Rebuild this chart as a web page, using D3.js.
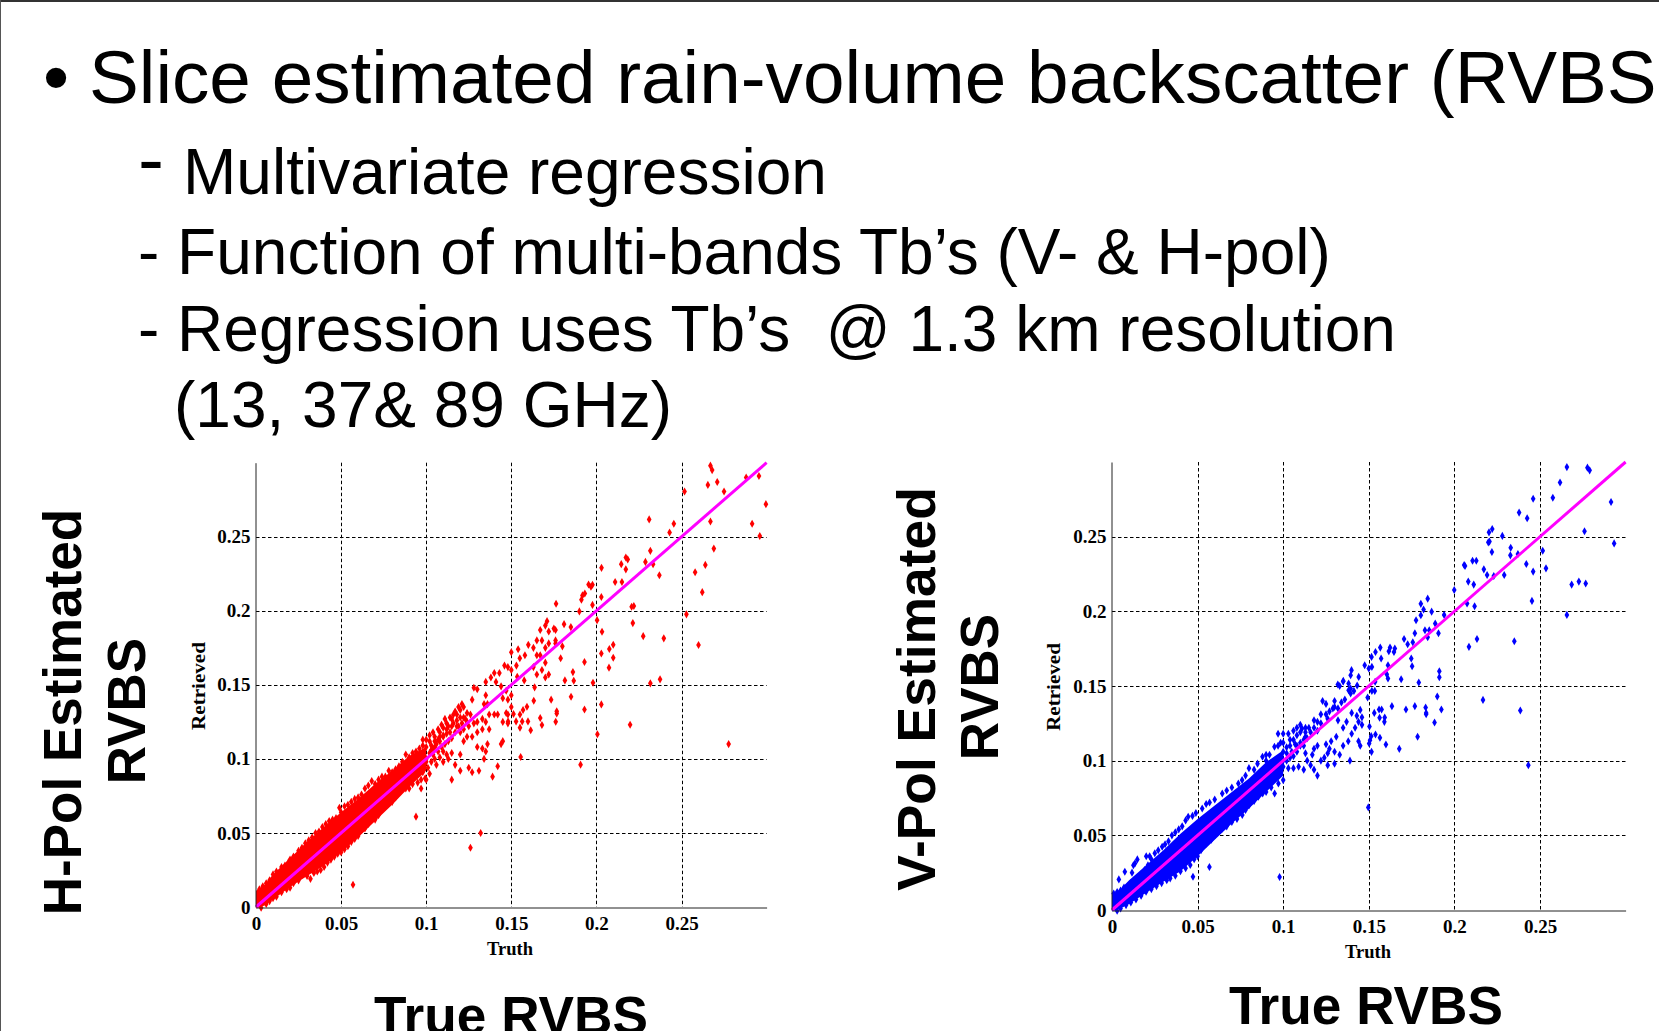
<!DOCTYPE html>
<html>
<head>
<meta charset="utf-8">
<script src="https://cdn.jsdelivr.net/npm/d3@7"></script>
<style>
  html, body { margin: 0; padding: 0; background: #fff; overflow: hidden; }
  svg { display: block; }
  .slide { font-family: "Liberation Sans", Arial, sans-serif; fill: #000; }
  .ticks text, .axis-name { font-family: "Liberation Serif", "Times New Roman", serif; font-weight: bold; fill: #000; }
</style>
</head>
<body>
<div id="chart"></div>
<script>
const xTicks = [0, 0.05, 0.1, 0.15, 0.2, 0.25];
const yTicks = [0, 0.05, 0.1, 0.15, 0.2, 0.25];
const tickLabels = ["0", "0.05", "0.1", "0.15", "0.2", "0.25"];
const oneToOne = [0, 0.3];

// the core of each cloud is saturated, single points can't be told apart there,
// so it is read off as a low/high envelope; everything else is [truth, retrieved]
const coreTruth = [0, 0.005, 0.01, 0.02, 0.03, 0.04, 0.05, 0.06, 0.07, 0.08, 0.09, 0.1];
const coreHighH = [0.011, 0.015, 0.022, 0.033, 0.044, 0.054, 0.064, 0.073, 0.083, 0.092, 0.102, 0.108];
const coreLowH = [-0.001, 0.001, 0.005, 0.0135, 0.021, 0.028, 0.037, 0.047, 0.058, 0.069, 0.081, 0.092];
const coreHighV = [0.01, 0.014, 0.02, 0.03, 0.04, 0.051, 0.061, 0.07, 0.079, 0.088, 0.099, 0.107];
const coreLowV = [-0.001, 0.001, 0.004, 0.0115, 0.019, 0.026, 0.036, 0.047, 0.058, 0.068, 0.079, 0.09];

const hPolPoints = [
  [0.002,0.012],[0.004,0.014],[0.006,0.016],[0.008,0.018],[0.01,0.022],[0.012,0.024],[0.015,0.027],[0.017,0.028],[0.019,0.03],
  [0.02,0.032],[0.022,0.034],[0.025,0.038],[0.027,0.04],[0.029,0.043],[0.031,0.045],[0.033,0.047],[0.035,0.05],[0.037,0.051],
  [0.039,0.054],[0.041,0.056],[0.043,0.058],[0.045,0.059],[0.047,0.06],[0.049,0.067],[0.05,0.064],[0.052,0.068],[0.054,0.069],
  [0.056,0.071],[0.058,0.073],[0.06,0.074],[0.062,0.076],[0.064,0.08],[0.066,0.082],[0.068,0.085],[0.07,0.083],[0.072,0.086],
  [0.074,0.088],[0.076,0.088],[0.078,0.092],[0.08,0.091],[0.082,0.093],[0.084,0.095],[0.086,0.098],[0.088,0.103],[0.09,0.101],
  [0.092,0.104],[0.094,0.105],[0.096,0.107],[0.098,0.109],
  [0.003,-0.0005],[0.006,0.002],[0.008,0.004],[0.01,0.006],[0.012,0.007],[0.015,0.01],[0.018,0.012],[0.02,0.013],[0.022,0.016],
  [0.025,0.018],[0.03,0.021],[0.032,0.019],[0.034,0.023],[0.036,0.024],[0.038,0.025],[0.04,0.027],[0.042,0.03],[0.044,0.032],
  [0.046,0.034],[0.048,0.036],[0.05,0.037],[0.052,0.039],[0.054,0.041],[0.056,0.044],[0.058,0.046],[0.06,0.048],[0.062,0.052],
  [0.064,0.053],[0.066,0.056],[0.068,0.06],[0.07,0.059],[0.072,0.062],[0.074,0.067],[0.076,0.07],[0.078,0.073],[0.08,0.071],
  [0.082,0.074],[0.084,0.078],[0.086,0.08],[0.088,0.08],[0.09,0.08],[0.092,0.083],[0.095,0.084],[0.097,0.086],[0.1,0.086],
  [0.1,0.1],[0.102,0.104],[0.104,0.103],[0.106,0.11],[0.107,0.105],[0.109,0.108],[0.111,0.11],[0.113,0.112],[0.115,0.114],
  [0.117,0.118],[0.119,0.122],[0.121,0.124],[0.123,0.127],[0.124,0.131],[0.126,0.13],[0.122,0.135],[0.119,0.135],[0.117,0.132],
  [0.114,0.128],[0.111,0.127],[0.109,0.123],[0.107,0.12],[0.104,0.118],[0.102,0.116],[0.1,0.113],[0.098,0.113],[0.103,0.109],
  [0.105,0.112],[0.108,0.115],[0.112,0.12],[0.116,0.124],[0.118,0.122],[0.12,0.128],[0.122,0.128],[0.124,0.125],[0.1,0.098],
  [0.103,0.098],[0.106,0.096],[0.108,0.101],[0.112,0.103],[0.113,0.1],[0.098,0.094],[0.101,0.094],[0.095,0.09],[0.093,0.088],
  [0.09,0.088],[0.088,0.084],[0.097,0.08],[0.0994,0.0869],[0.104,0.107],[0.107,0.113],[0.11,0.116],[0.113,0.122],[0.116,0.13],
  [0.1,0.108],[0.102,0.112],[0.105,0.115],[0.108,0.118],[0.11,0.121],[0.112,0.124],[0.115,0.127],[0.118,0.13],[0.12,0.133],
  [0.121,0.137],[0.118,0.126],[0.115,0.122],[0.112,0.117],[0.108,0.112],[0.105,0.108],[0.103,0.106],[0.11,0.115],[0.114,0.118],
  [0.105,0.1],[0.11,0.105],[0.115,0.104],[0.12,0.103],[0.098,0.091],[0.102,0.09],[0.11,0.098],[0.117,0.096],[0.12,0.092],
  [0.115,0.086],[0.125,0.094],[0.127,0.091],[0.131,0.092],[0.139,0.088],[0.142,0.095],[0.094,0.061],[0.132,0.05],[0.126,0.04],[0.057,0.015],
  [0.12,0.118],[0.122,0.12],[0.125,0.122],[0.128,0.124],[0.124,0.115],[0.122,0.112],[0.127,0.115],[0.13,0.118],[0.13,0.125],
  [0.133,0.127],[0.135,0.125],[0.137,0.12],[0.133,0.12],[0.13,0.108],[0.133,0.107],[0.135,0.105],[0.136,0.11],[0.134,0.1],
  [0.145,0.112],[0.144,0.11],[0.14,0.13],[0.137,0.13],[0.142,0.13],[0.145,0.125],[0.147,0.131],[0.148,0.124],[0.127,0.14],
  [0.13,0.147],[0.128,0.148],[0.135,0.143],[0.134,0.137],[0.136,0.137],[0.135,0.152],[0.138,0.155],[0.14,0.158],[0.143,0.158],
  [0.141,0.152],[0.144,0.149],[0.148,0.162],[0.146,0.163],[0.15,0.16],[0.153,0.163],[0.155,0.168],[0.15,0.172],[0.154,0.174],
  [0.147,0.146],[0.145,0.141],[0.148,0.14],[0.15,0.143],[0.15,0.135],[0.148,0.13],[0.16,0.177],[0.158,0.17],[0.163,0.162],
  [0.165,0.18],[0.167,0.187],[0.171,0.193],[0.17,0.19],[0.172,0.186],[0.175,0.188],[0.176,0.18],[0.17,0.175],[0.172,0.178],
  [0.168,0.18],[0.165,0.17],[0.163,0.175],[0.167,0.17],[0.17,0.165],[0.168,0.16],[0.172,0.157],[0.17,0.155],[0.165,0.157],
  [0.176,0.187],[0.181,0.191],[0.185,0.189],[0.176,0.178],[0.18,0.176],[0.179,0.168],
  [0.267,0.298],[0.268,0.295],[0.288,0.29],[0.2955,0.291],[0.2996,0.272],[0.271,0.287],[0.2655,0.285],[0.275,0.2806],[0.2518,0.2806],
  [0.231,0.2617],[0.2455,0.2588],[0.243,0.2529],[0.267,0.2603],[0.2915,0.2588],[0.296,0.2505],[0.269,0.242],[0.2317,0.2405],[0.2288,0.233],
  [0.2333,0.2315],[0.264,0.231],[0.258,0.226],[0.237,0.224],[0.203,0.229],[0.2173,0.236],[0.2184,0.2347],[0.2146,0.2315],[0.2173,0.228],
  [0.211,0.2194],[0.215,0.2194],[0.2029,0.2093],[0.1977,0.2176],[0.1954,0.2178],[0.1968,0.2162],[0.1932,0.2117],[0.1918,0.2104],[0.1912,0.2075],
  [0.1977,0.204],[0.19,0.1996],[0.1763,0.2048],[0.2004,0.1937],[0.2033,0.1859],[0.222,0.2032],[0.2207,0.2027],[0.2214,0.1917],[0.2529,0.1976],
  [0.2622,0.2126],[0.2275,0.1829],[0.2396,0.1814],[0.26,0.1769],[0.2099,0.1771],[0.2076,0.1742],[0.2029,0.1712],[0.2099,0.1683],[0.2074,0.1616],
  [0.193,0.1654],[0.1862,0.1586],[0.1867,0.1528],[0.1815,0.153],[0.198,0.1514],[0.2317,0.151],[0.2374,0.1537],[0.2029,0.1368],[0.193,0.1334],
  [0.1851,0.142],[0.2198,0.1231],[0.2006,0.1166],[0.2777,0.11],[0.1907,0.0961],[0.1555,0.1013],[0.1734,0.14],[0.1767,0.1321],[0.1767,0.1307],
  [0.1761,0.1251],[0.167,0.1276],[0.168,0.1229],[0.1614,0.1193],[0.1632,0.1393],[0.1637,0.1483],[0.1576,0.153],[0.1535,0.1555],[0.1592,0.1352],
  [0.1569,0.133],[0.1551,0.13],[0.1513,0.1303],[0.1528,0.1253],[0.1564,0.1253],[0.1598,0.1253],[0.1551,0.1211],[0.1481,0.1253]
];

const vPolPoints = [
  [0.001,0.011],[0.003,0.012],[0.005,0.013],[0.007,0.015],[0.009,0.0156],[0.011,0.018],[0.013,0.02],[0.015,0.021],[0.017,0.024],
  [0.019,0.0268],[0.004,0.0205],[0.0075,0.0256],[0.0117,0.025],[0.0134,0.0312],[0.0148,0.0339],[0.0125,0.03],
  [0.021,0.03],[0.023,0.034],[0.02,0.036],[0.022,0.036],[0.025,0.038],[0.027,0.04],[0.0293,0.0424],[0.031,0.044],[0.033,0.046],
  [0.035,0.05],[0.037,0.052],[0.039,0.054],[0.041,0.056],[0.043,0.06],[0.0445,0.0624],[0.047,0.063],[0.049,0.065],[0.0527,0.068],
  [0.055,0.071],[0.057,0.072],[0.06,0.074],[0.0644,0.078],[0.067,0.08],[0.07,0.082],[0.0738,0.0847],[0.076,0.087],[0.078,0.09],
  [0.08,0.095],[0.083,0.094],[0.085,0.098],[0.0879,0.1026],[0.09,0.104],[0.092,0.104],[0.0949,0.1093],[0.097,0.11],[0.0985,0.112],[0.09,0.1],
  [0.003,-0.0005],[0.005,0.001],[0.0082,0.0033],[0.011,0.005],[0.014,0.007],[0.017,0.0095],[0.0199,0.0123],[0.023,0.014],[0.026,0.016],
  [0.029,0.018],[0.032,0.02],[0.034,0.0212],[0.037,0.023],[0.04,0.026],[0.043,0.028],[0.0457,0.0301],[0.048,0.034],[0.05,0.036],
  [0.052,0.04],[0.055,0.0446],[0.058,0.047],[0.06,0.05],[0.0644,0.0546],[0.067,0.056],[0.07,0.059],[0.073,0.061],[0.0761,0.0636],
  [0.078,0.067],[0.08,0.07],[0.083,0.073],[0.0855,0.0758],[0.088,0.078],[0.09,0.079],[0.093,0.082],[0.0972,0.0847],[0.1,0.087],[0.095,0.078],
  [0.072,0.07],[0.076,0.072],[0.08,0.076],[0.084,0.08],
  [0.1,0.1],[0.102,0.1],[0.104,0.102],[0.106,0.103],[0.108,0.11],[0.11,0.11],[0.112,0.114],[0.114,0.115],[0.116,0.119],[0.118,0.122],
  [0.12,0.12],[0.1,0.106],[0.102,0.109],[0.104,0.114],[0.099,0.103],[0.106,0.114],[0.108,0.122],[0.11,0.124],[0.113,0.119],
  [0.1,0.112],[0.103,0.118],[0.1,0.118],[0.097,0.118],[0.106,0.12],[0.108,0.117],[0.11,0.119],[0.111,0.1215],[0.113,0.122],[0.115,0.122],
  [0.104,0.11],[0.107,0.111],[0.11,0.112],[0.113,0.116],[0.108,0.106],[0.112,0.11],[0.102,0.105],[0.105,0.106],
  [0.1,0.096],[0.103,0.095],[0.106,0.095],[0.109,0.096],[0.112,0.094],[0.116,0.097],[0.12,0.09],[0.118,0.094],[0.114,0.1],
  [0.117,0.104],[0.118,0.108],[0.12,0.11],[0.113,0.105],[0.122,0.1],[0.124,0.102],[0.126,0.097],[0.13,0.098],[0.133,0.104],
  [0.135,0.11],[0.13,0.106],[0.127,0.108],[0.125,0.111],[0.128,0.113],[0.131,0.116],[0.126,0.105],[0.139,0.1],
  [0.118,0.127],[0.12,0.126],[0.122,0.125],[0.122,0.131],[0.125,0.131],[0.123,0.14],[0.125,0.138],[0.127,0.133],[0.129,0.135],
  [0.126,0.128],[0.132,0.135],[0.13,0.136],[0.134,0.139],[0.136,0.141],[0.133,0.15],[0.135,0.153],[0.13,0.14],
  [0.1567,0.1757],[0.1539,0.1728],[0.1516,0.1695],[0.1624,0.1757],[0.1652,0.1751],[0.1617,0.1733],[0.1647,0.1728],[0.1572,0.1684],
  [0.1518,0.1628],[0.15,0.1617],[0.1476,0.1639],[0.1612,0.1639],[0.1605,0.1579],[0.1612,0.155],[0.1399,0.1606],[0.1394,0.1572],
  [0.1351,0.1534],[0.1319,0.151],[0.1441,0.1561],[0.1382,0.1517],[0.1394,0.1483],[0.1432,0.1503],[0.1394,0.145],[0.1382,0.1472],[0.1413,0.1467],
  [0.1537,0.1528],[0.1518,0.1467],[0.1535,0.1467],[0.1493,0.1423],[0.137,0.126],[0.14,0.132],[0.143,0.13],[0.145,0.134],[0.146,0.129],
  [0.144,0.126],[0.142,0.122],[0.14,0.118],[0.135,0.122],[0.132,0.127],[0.146,0.124],[0.144,0.113],[0.145,0.11],[0.138,0.113],
  [0.2657,0.2966],[0.2777,0.2962],[0.279,0.2944],[0.2617,0.2863],[0.2575,0.2761],[0.246,0.2754],[0.2915,0.2732],[0.2378,0.2661],[0.2425,0.2623],
  [0.276,0.2536],[0.2933,0.2455],[0.228,0.2505],[0.2221,0.2551],[0.2202,0.2529],[0.2198,0.2462],[0.2205,0.2467],[0.2219,0.2397],[0.2329,0.2426],
  [0.2327,0.2375],[0.2371,0.2384],[0.2516,0.2406],[0.2535,0.2288],[0.242,0.2317],[0.246,0.2266],[0.2291,0.2243],[0.223,0.2237],[0.2191,0.2243],
  [0.2172,0.2281],[0.2106,0.2339],[0.2128,0.2339],[0.2057,0.231],[0.2062,0.2304],[0.2081,0.2199],[0.2113,0.2179],[0.2685,0.2179],[0.2727,0.2199],
  [0.2767,0.2186],[0.1999,0.2143],[0.2453,0.207],[0.2657,0.1976],[0.2118,0.2034],[0.2074,0.2052],[0.1844,0.2085],[0.1804,0.205],[0.182,0.2012],
  [0.1867,0.1998],[0.1804,0.1974],[0.1776,0.194],[0.1888,0.1918],[0.194,0.1976],[0.1907,0.1853],[0.1828,0.1873],[0.1853,0.1873],[0.1844,0.1826],
  [0.1769,0.1853],[0.1706,0.1815],[0.1727,0.178],[0.1757,0.1793],[0.2132,0.1815],[0.2085,0.1762],[0.235,0.18],[0.1748,0.1684],[0.1753,0.1632],
  [0.1792,0.1523],[0.1689,0.1545],[0.1912,0.1599],[0.1912,0.1559],[0.19,0.143],[0.2167,0.1407],[0.2385,0.1336],[0.1924,0.1343],[0.1832,0.1356],
  [0.1835,0.132],[0.1835,0.1311],[0.1769,0.1365],[0.1717,0.1343],[0.1635,0.1365],[0.1884,0.1256],[0.1785,0.116],[0.1678,0.1079],[0.16,0.1108],
  [0.1565,0.1153],[0.2432,0.097],[0.1497,0.0687],[0.0979,0.0221],[0.0569,0.0288],[0.0473,0.0223],[0.1575,0.1343],[0.156,0.1343],[0.1532,0.132],
  [0.1563,0.1287],[0.1593,0.1289],[0.1591,0.126],[0.1504,0.1229],[0.1514,0.1164],[0.1507,0.1137],[0.1502,0.1115],[0.1539,0.1175],[0.1516,0.1059]
];

const width = 1659;
const height = 1031;
const gridColor = "#000";
const lineColor = "#ff00ff";

const svg = d3.select("#chart").append("svg")
  .attr("width", width)
  .attr("height", height);

svg.append("rect").attr("width", width).attr("height", height).attr("fill", "#fff");
svg.append("line").attr("x1", 0).attr("x2", width).attr("y1", 1).attr("y2", 1).attr("stroke", "#333").attr("stroke-width", 2);
svg.append("line").attr("x1", 0.5).attr("x2", 0.5).attr("y1", 0).attr("y2", height).attr("stroke", "#555");

const slide = svg.append("g").attr("class", "slide");

const addText = (txt, x, y, size, opts = {}) => {
  const t = slide.append("text")
    .attr("font-size", size)
    .attr("font-weight", opts.bold ? "bold" : "normal")
    .attr("transform", `translate(${x},${y}) rotate(${opts.rotate || 0})`)
    .text(txt);
  if (opts.anchor) t.attr("text-anchor", opts.anchor);
  return t;
};

addText("•", 43, 103, 74.7);
addText("Slice estimated rain-volume backscatter (RVBS", 89, 103, 74.7);
addText("-", 138, 186, 78);
addText("Multivariate regression", 183, 194, 64);
addText("- Function of multi-bands Tb’s (V- & H-pol)", 138, 274, 64);
addText("- Regression uses Tb’s  @ 1.3 km resolution", 138, 351, 64).style("white-space", "pre");
addText("(13, 37& 89 GHz)", 174, 427, 64);

addText("H-Pol Estimated", 81, 712, 53, { bold: true, rotate: -90, anchor: "middle" });
addText("RVBS", 145, 711, 53, { bold: true, rotate: -90, anchor: "middle" });
addText("True RVBS", 511, 1034, 53.2, { bold: true, anchor: "middle" });
addText("V-Pol Estimated", 935, 689, 53.4, { bold: true, rotate: -90, anchor: "middle" });
addText("RVBS", 998, 687, 53, { bold: true, rotate: -90, anchor: "middle" });
addText("True RVBS", 1366, 1024, 53.2, { bold: true, anchor: "middle" });

const drawPanel = (p) => {
  const x = d3.scaleLinear().domain([0, 0.3]).range([p.left, p.right]);
  const y = d3.scaleLinear().domain([0, 0.3]).range([p.bottom, p.top]);
  const g = svg.append("g");

  const grid = g.append("g")
    .attr("stroke", gridColor)
    .attr("stroke-width", 1)
    .attr("stroke-dasharray", "3.5,2.5");
  grid.selectAll(".vgrid").data(xTicks.slice(1)).enter().append("line")
    .attr("x1", (d) => Math.round(x(d)) + 0.5)
    .attr("x2", (d) => Math.round(x(d)) + 0.5)
    .attr("y1", y(0.3))
    .attr("y2", y(0));
  grid.selectAll(".hgrid").data(yTicks.slice(1)).enter().append("line")
    .attr("x1", x(0))
    .attr("x2", x(0.3))
    .attr("y1", (d) => Math.round(y(d)) + 0.5)
    .attr("y2", (d) => Math.round(y(d)) + 0.5);

  const area = d3.area()
    .x((d, i) => x(coreTruth[i]))
    .y0((d) => y(d[0]))
    .y1((d) => y(d[1]));
  g.append("path")
    .datum(d3.zip(p.coreLow, p.coreHigh))
    .attr("fill", p.color)
    .attr("d", area);

  const marker = d3.symbol().type(d3.symbolDiamond).size(19);
  g.selectAll(".pt").data(p.points).enter().append("path")
    .attr("d", marker)
    .attr("fill", p.color)
    .attr("transform", (d) => `translate(${x(d[0])},${y(d[1])})`);

  g.append("line")
    .attr("x1", x(oneToOne[0]))
    .attr("y1", y(oneToOne[0]))
    .attr("x2", x(oneToOne[1]))
    .attr("y2", y(oneToOne[1]))
    .attr("stroke", lineColor)
    .attr("stroke-width", 3);

  const fmt = (d) => tickLabels[xTicks.indexOf(d)];

  const xAxis = g.append("g")
    .attr("class", "ticks")
    .attr("transform", `translate(0,${p.bottom + 0.5})`)
    .call(d3.axisBottom(x).tickValues(xTicks).tickFormat(fmt).tickSize(0).tickPadding(p.xPad));
  xAxis.select(".domain").attr("stroke", "#222");
  xAxis.selectAll("text").attr("font-size", 19);

  const yAxis = g.append("g")
    .attr("class", "ticks")
    .attr("transform", `translate(${p.left - 0.5},0)`)
    .call(d3.axisLeft(y).tickValues(yTicks).tickFormat((d) => tickLabels[yTicks.indexOf(d)]).tickSize(0).tickPadding(5));
  yAxis.select(".domain").attr("stroke", "#222");
  yAxis.selectAll("text").attr("font-size", 19);

  g.append("text")
    .attr("class", "axis-name")
    .attr("x", p.truthX)
    .attr("y", p.truthY)
    .attr("text-anchor", "middle")
    .attr("font-size", 18.5)
    .text("Truth");
  g.append("text")
    .attr("class", "axis-name")
    .attr("transform", `translate(${p.retrX},${p.retrY}) rotate(-90)`)
    .attr("text-anchor", "middle")
    .attr("font-size", 18.5)
    .attr("textLength", 88)
    .attr("lengthAdjust", "spacingAndGlyphs")
    .text("Retrieved");
};

drawPanel({
  left: 256, right: 766.6, top: 462.7, bottom: 907,
  color: "#ff0000", points: hPolPoints, coreLow: coreLowH, coreHigh: coreHighH,
  xPad: 9, truthX: 510, truthY: 955, retrX: 205, retrY: 686
});
drawPanel({
  left: 1112, right: 1625.6, top: 462, bottom: 910,
  color: "#0000ff", points: vPolPoints, coreLow: coreLowV, coreHigh: coreHighV,
  xPad: 9, truthX: 1368, truthY: 958, retrX: 1060, retrY: 687
});
</script>
</body>
</html>
